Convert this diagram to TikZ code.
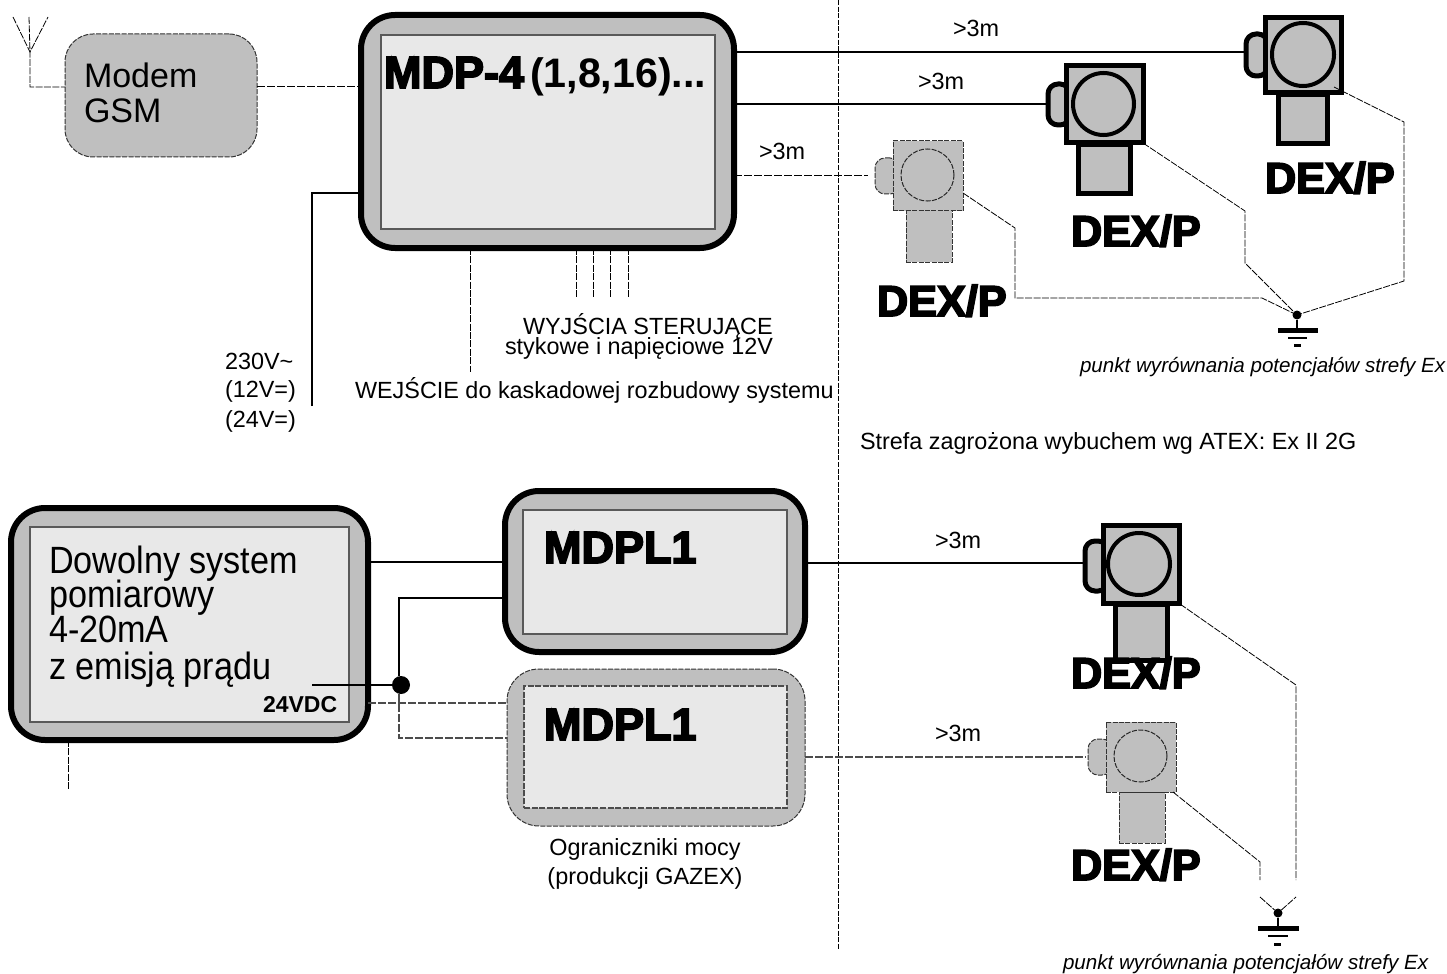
\documentclass[tikz,border=0pt]{standalone}
\usepackage{fontspec}
\setmainfont{Liberation Sans}
\newfontfamily\heavyfont[FakeBold=4]{Liberation Sans Bold}
\newfontfamily\condfont[FakeStretch=0.9]{Liberation Sans}
\newfontfamily\narrowfont[FakeStretch=0.97]{Liberation Sans}
\definecolor{shell}{HTML}{BFBFBF}
\definecolor{panel}{HTML}{E8E8E8}
\newcommand{\placebox}[6]{\node[#2,minimum width={(#5-#3)*0.5pt},minimum height={(#6-#4)*0.5pt}] (#1) at ({(#3+#5)/2},{(#4+#6)/2}) {};}
\newcommand{\placeround}[6]{\node[#2,ellipse,minimum width={(#5-#3)*0.5pt},minimum height={(#6-#4)*0.5pt}] (#1) at ({(#3+#5)/2},{(#4+#6)/2}) {};}
\usetikzlibrary{shapes.geometric}
\tikzset{
  shp/.style={inner sep=0pt,outer sep=0pt,rectangle},
  hardshell/.style={shp,draw=black,fill=shell,line width=3pt,rounded corners=17pt},
  softshell/.style={shp,draw=black!80,fill=shell,line width=.5pt,dash pattern=on 2.5pt off .7pt,rounded corners=16pt},
  hardpanel/.style={shp,draw=black!65,fill=panel,line width=.6pt},
  softpanel/.style={shp,draw=black!70,fill=panel,line width=.7pt,dash pattern=on 3pt off .8pt},
  hardbox/.style={shp,draw=black,fill=shell,line width=2.5pt},
  softbox/.style={shp,draw=black!80,fill=shell,line width=.5pt,dash pattern=on 2.5pt off .7pt},
  hardbump/.style={hardbox,rounded corners=5pt},
  softbump/.style={softbox,rounded corners=5pt},
  hardeye/.style={inner sep=0pt,outer sep=0pt,draw=black,fill=shell,line width=2pt},
  softeye/.style={inner sep=0pt,outer sep=0pt,draw=black!85,fill=shell,line width=.5pt,dash pattern=on 2.5pt off .7pt},
  wire/.style={line width=1.4pt,black},
  dwire/.style={line width=.5pt,black,dash pattern=on 4pt off 1pt},
  gwire/.style={line width=.7pt,black!70,dash pattern=on 4pt off 1pt},
  fine/.style={line width=.4pt,black,dash pattern=on 3.5pt off .7pt},
  divider/.style={line width=.4pt,black,dash pattern=on 2.5pt off .8pt},
  txt/.style={inner sep=0pt,outer sep=0pt,anchor=base west,align=left},
  lab/.style={txt,font=\fontsize{11.7}{13}\selectfont},
  dexlab/.style={txt,font=\heavyfont\fontsize{21.6}{24}\selectfont},
  plim/.style={txt,font=\fontsize{17}{19}\selectfont},
  gdot/.style={circle,fill=black,inner sep=0pt,outer sep=0pt,minimum size=4.5pt},
}
\begin{document}
\begin{tikzpicture}[x=0.5pt,y=-0.5pt]
\useasboundingbox (0,0) rectangle (1447,974);
% divider
\coordinate (divT) at (838,0); \coordinate (divB) at (838,950);
\draw[divider] (divT) -- (divB);
% modem & antenna
\placebox{modem}{softshell,rounded corners=14pt}{65}{34}{257}{157}
\placebox{mdp}{hardshell}{361}{15}{734}{248}
\placebox{mdpin}{hardpanel}{381}{35}{715}{229}
\coordinate (antA) at (30,52); \coordinate (antL) at (13,17); \coordinate (antM) at (29,17); \coordinate (antR) at (48,17);
\coordinate (antF) at (30,87);
\draw[fine] (antL) -- (antA) -- (antR);
\draw[fine] (antM) -- (antA) -- (antF) -- (antF-|modem.west);
\coordinate (yModem) at (0,87);
\draw[dwire] (modem.east|-yModem) -- (mdp.west|-yModem);
% power
\coordinate (pwrT) at (312,193); \coordinate (pwrB) at (312,406);
\draw[wire] (pwrB) -- (pwrT) -- (pwrT-|mdp.west);
% mdp bottom dashed
\coordinate (wej) at (470,372);
\draw[fine] (wej|-mdp.south) -- (wej);
\foreach \n/\xx in {1/576,2/593,3/610,4/628}{
  \coordinate (wy\n) at (\xx,297);
  \draw[fine] (wy\n|-mdp.south) -- (wy\n);
}
% detector A
\placebox{bumpA}{hardbump}{1246}{34}{1268}{76}
\placebox{stemA}{hardbox}{1278}{95}{1327}{144}
\placebox{dexA}{hardbox}{1265}{17.5}{1341.5}{93}
\placeround{eyeA}{hardeye}{1272}{23}{1334}{86}
% detector B
\placebox{bumpB}{hardbump}{1048}{84}{1070}{125}
\placebox{stemB}{hardbox}{1078}{145}{1130}{194}
\placebox{dexB}{hardbox}{1066}{66}{1143}{143}
\placeround{eyeB}{hardeye}{1073}{73}{1134}{135}
% detector C
\placebox{bumpC}{softbump}{875}{158}{900}{194}
\placebox{stemC}{softbox}{906}{211}{952}{262}
\placebox{dexC}{softbox}{893}{141}{963}{211}
\placeround{eyeC}{softeye}{901}{149}{954}{201}
% detector D
\placebox{bumpD}{hardbump}{1085}{541}{1108}{591}
\placebox{stemD}{hardbox}{1115}{604}{1167}{660}
\placebox{dexD}{hardbox}{1103}{525}{1179}{603}
\placeround{eyeD}{hardeye}{1108}{533}{1170}{595}
% detector E
\placebox{bumpE}{softbump}{1088}{739}{1112}{775}
\placebox{stemE}{softbox}{1119}{792}{1165}{843}
\placebox{dexE}{softbox}{1106}{722}{1176}{792}
\placeround{eyeE}{softeye}{1114}{730}{1167}{782}
% wires to detectors
\coordinate (yA) at (0,52); \coordinate (yB) at (0,104); \coordinate (yC) at (0,176);
\draw[wire] (mdp.east|-yA) -- (bumpA.west|-yA);
\draw[wire] (mdp.east|-yB) -- (bumpB.west|-yB);
\draw[dwire] (mdp.east|-yC) -- (868,176);
% ground 1
\node[gdot] (g1) at (1297,315) {};
\coordinate (g1s) at (1297,330);
\draw[line width=1.25pt] (g1) -- (g1s);
\draw[line width=2.5pt] (1278,330) -- (1318,330);
\draw[line width=1.2pt] (1288,338) -- (1307,338);
\draw[line width=1.5pt] (1294,345) -- (1301,345);
\draw[fine] (1334,87) -- (1404,122) -- (1404,281) -- (g1);
\draw[fine] (dexB.south east) -- (1245,211) -- (1245,263) -- (g1);
\draw[fine] (963,193) -- (1015,228) -- (1015,298) -- (1262,298) -- (g1);
% lower left
\placebox{sys}{hardshell}{11}{508}{368}{740}
\placebox{sysin}{hardpanel}{30}{527}{349}{722}
\placebox{lim}{hardshell}{505}{491}{805}{652}
\placebox{limin}{hardpanel}{523}{510}{787}{634}
\placebox{lims}{softshell}{507}{669}{805}{826}
\placebox{limsin}{softpanel}{524}{686}{787}{808}
\node[gdot,minimum size=9pt] (junc) at (401,685) {};
\coordinate (jA) at (312,685); \coordinate (jB) at (399,598);
\draw[wire] (jA) -- (junc);
\draw[wire] (junc.north-|jB) -- (jB) -- (jB-|lim.west);
\coordinate (yS) at (0,562);
\draw[wire] (sys.east|-yS) -- (lim.west|-yS);
\coordinate (yS2) at (0,703); \coordinate (jC) at (399,738);
\draw[gwire] (sys.east|-yS2) -- (lims.west|-yS2);
\draw[gwire] (junc.south-|jC) -- (jC) -- (jC-|lims.west);
\coordinate (sysd) at (68,790);
\draw[fine] (sysd|-sys.south) -- (sysd);
\coordinate (yD) at (0,563); \coordinate (yE) at (0,757);
\draw[wire] (lim.east|-yD) -- (bumpD.west|-yD);
\draw[gwire] (lims.east|-yE) -- (1086,757);
% ground 2
\node[gdot] (g2) at (1278,913) {};
\draw[line width=1.25pt] (g2) -- (1278,927);
\draw[line width=2.5pt] (1258,928) -- (1299,928);
\draw[line width=1.2pt] (1268,936) -- (1288,936);
\draw[line width=1.5pt] (1274,944) -- (1281,944);
\draw[fine] (1173,792) -- (1260,862) -- (1260,880);
\draw[fine] (1180,604) -- (1296,685) -- (1296,880);
\draw[fine] (1260,897) -- (g2) -- (1296,897);
% text
\node[plim] (tModem) at (84,88) {Modem};
\node[plim] (tGsm) at (84,123) {GSM};
\node[txt,font=\heavyfont\fontsize{22.5}{24}\selectfont] (tMdp) at (384,88) {MDP-4};
\node[txt,font=\bfseries\fontsize{20.6}{24}\selectfont] (tMdp2) at (530,88) {(1,8,16)...};
\node[lab] at (953,37) (d1) {>3m};
\node[lab] at (918,90) (d2) {>3m};
\node[lab] at (759,160) (d3) {>3m};
\node[lab] at (935,548) (d4) {>3m};
\node[lab] at (935,741) (d5) {>3m};
\node[dexlab] (l1) at (1265,193) {DEX/P};
\node[dexlab] (l2) at (1071,246) {DEX/P};
\node[dexlab] (l3) at (877,316) {DEX/P};
\node[dexlab] (l4) at (1071,688) {DEX/P};
\node[dexlab] (l5) at (1071,880) {DEX/P};
\node[txt,font=\itshape\fontsize{10.3}{11}\selectfont] (p1) at (1080,372) {punkt wyrównania potencjałów strefy Ex};
\node[txt,font=\itshape\fontsize{10.3}{11}\selectfont] (p2) at (1063,969) {punkt wyrównania potencjałów strefy Ex};
\node[lab] (z1) at (860,449) {Strefa zagrożona wybuchem wg ATEX: Ex II 2G};
\node[lab] (w1) at (523,334) {WYJŚCIA STERUJĄCE};
\node[lab] (w2) at (505,354) {stykowe i napięciowe 12V};
\node[lab] (w3) at (355,398) {WEJŚCIE do kaskadowej rozbudowy systemu};
\node[lab] (v1) at (225,369) {230V\textasciitilde};
\node[lab] (v2) at (225,397) {(12V=)};
\node[lab] (v3) at (225,427) {(24V=)};
\node[txt,font=\condfont\fontsize{19}{20}\selectfont] (s1) at (49,573) {Dowolny system};
\node[txt,font=\condfont\fontsize{19}{20}\selectfont] (s2) at (49,607) {pomiarowy};
\node[txt,font=\condfont\fontsize{19}{20}\selectfont] (s3) at (49,642) {4-20mA};
\node[txt,font=\condfont\fontsize{19}{20}\selectfont] (s4) at (49,679) {z emisją prądu};
\node[txt,font=\bfseries\fontsize{11.5}{13}\selectfont] (s5) at (263,712) {24VDC};
\node[txt,font=\heavyfont\fontsize{22.5}{24}\selectfont] (m1) at (544,563) {MDPL1};
\node[txt,font=\heavyfont\fontsize{22.5}{24}\selectfont] (m2) at (544,740) {MDPL1};
\node[lab,anchor=base] (o1) at (645,855) {Ograniczniki mocy};
\node[lab,anchor=base] (o2) at (645,884) {(produkcji GAZEX)};
\end{tikzpicture}
\end{document}
